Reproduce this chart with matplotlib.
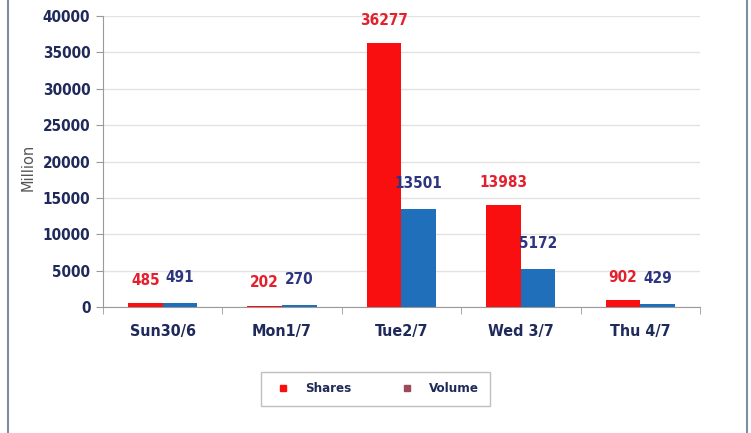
import numpy as np
import matplotlib.pyplot as plt
from matplotlib.lines import Line2D

days = ['Sun30/6', 'Mon1/7', 'Tue2/7', 'Wed 3/7', 'Thu 4/7']
shares = [485, 202, 36277, 13983, 902]
volume = [491, 270, 13501, 5172, 429]

red = '#f90f0f'
blue = '#1f6fba'
navy = '#1f2a5a'

plt.rcParams['font.family'] = ['DejaVu Sans']
plt.rcParams['font.stretch'] = 'condensed'

fig = plt.figure(figsize=(7.51, 4.33), dpi=100)
ax = fig.add_axes([0.137, 0.291, 0.795, 0.672])

x = np.arange(len(days))
w = 0.29
b1 = ax.bar(x - w / 2, shares, w, color=red, label='Shares', zorder=3)
b2 = ax.bar(x + w / 2, volume, w, color=blue, label='Volume', zorder=3)

# value labels above bars
for i in range(len(days)):
    ax.annotate(str(shares[i]), (x[i] - w / 2, shares[i]), xytext=(0, 11),
                textcoords='offset points', ha='center', va='bottom',
                color='#e3202c', fontsize=11, fontweight='bold')
    ax.annotate(str(volume[i]), (x[i] + w / 2, volume[i]), xytext=(0, 13),
                textcoords='offset points', ha='center', va='bottom',
                color='#2d3580', fontsize=11, fontweight='bold')

ax.set_xlim(-0.5, len(days) - 0.5)
ax.set_ylim(0, 40000)
ax.set_yticks(np.arange(0, 40001, 5000))
ax.set_xticks(x)
ax.set_xticklabels(days)
ax.set_xticks(np.arange(-0.5, len(days), 1.0), minor=True)
ax.tick_params(axis='x', which='major', length=0, pad=12, labelsize=11.5,
               labelcolor=navy)
ax.tick_params(axis='x', which='minor', length=5, color='#9a9a9a')
ax.tick_params(axis='y', length=5, color='#9a9a9a', labelsize=11,
               labelcolor=navy, pad=4)
for lab in ax.get_xticklabels() + ax.get_yticklabels():
    lab.set_fontweight('bold')

ax.grid(axis='y', color='#e2e2e2', linewidth=1, zorder=0)
for s in ['top', 'right']:
    ax.spines[s].set_visible(False)
ax.spines['left'].set_color('#9a9a9a')
ax.spines['bottom'].set_color('#9a9a9a')

ax.set_ylabel('Million', fontsize=10.5, color='#555555', fontstretch='normal')
ax.yaxis.set_label_coords(-0.113, 0.48)

handles = [Line2D([], [], marker='s', linestyle='', color=red, markersize=5),
           Line2D([], [], marker='s', linestyle='', color='#9b4a5a', markersize=5)]
leg = fig.legend(handles, ['Shares', 'Volume'], loc='center',
                 bbox_to_anchor=(0.5, 0.102), ncol=2, fancybox=False,
                 edgecolor='#b0b0b0', fontsize=9.5, columnspacing=3.4,
                 handletextpad=0.9, borderpad=0.8, handlelength=1.6,
                 borderaxespad=0)
for t in leg.get_texts():
    t.set_color(navy)
    t.set_fontweight('bold')

# outer frame lines
fig.add_artist(Line2D([0.011, 0.011], [0, 1], color='#7f8ca8', linewidth=1.5))
fig.add_artist(Line2D([0.995, 0.995], [0, 1], color='#7f8ca8', linewidth=1.5))

fig.savefig('out.png', dpi=100)
